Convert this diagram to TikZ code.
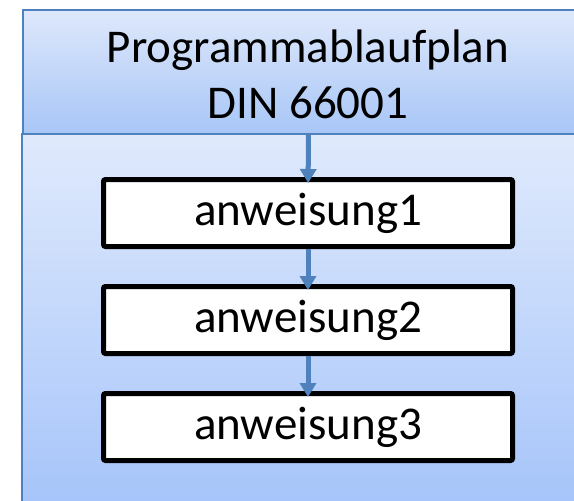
\documentclass[tikz,border=0pt]{standalone}
\usepackage{fontspec}
\setmainfont{Carlito}
\usetikzlibrary{positioning, arrows.meta}

\definecolor{frameblue}{RGB}{79,129,189}
\definecolor{headtop}{RGB}{222,232,251}
\definecolor{headbottom}{RGB}{168,198,247}
\definecolor{bodytop}{RGB}{224,234,252}
\definecolor{bodybottom}{RGB}{164,195,250}

\begin{document}
\begin{tikzpicture}[
        x=0.5pt, y=-0.5pt,
        node distance=17.5pt,
        header/.style={rectangle, draw=frameblue, line width=0.75pt, top color=headtop, bottom color=headbottom, minimum width=286pt, minimum height=62pt, inner sep=0pt},
        stepbox/.style={rectangle, draw=black, line width=2.5pt, fill=white, rounded corners=1pt, minimum width=204.5pt, minimum height=33.5pt, inner sep=0pt, font=\fontsize{23.5}{28}\selectfont},
        titletext/.style={align=center, font=\fontsize{23.5}{28}\selectfont},
        flow/.style={draw=frameblue, line width=2.5pt, -{Triangle[width=8pt, length=7pt]}, shorten >=-3pt}
    ]
    \useasboundingbox (0,0) rectangle (574,500);
    \clip (0,0) rectangle (574,500);

    % Rumpf und Kopf
    \shade[top color=bodytop, bottom color=bodybottom] (22,133) rectangle (594,520);
    \draw[frameblue, line width=0.75pt] (22,133) -- (22,520);
    \node[header, anchor=north west] (head) at (22,9) {};
    \node[titletext, anchor=base] (title) at (308,118) {Programmablaufplan\\DIN 66001};

    % Anweisungen
    \node[stepbox] (anw1) at (308,213) {anweisung1};
    \node[stepbox, below=of anw1] (anw2) {anweisung2};
    \node[stepbox, below=of anw2] (anw3) {anweisung3};

    \draw[flow] (head) -- (anw1);
    \draw[flow] (anw1) -- (anw2);
    \draw[flow] (anw2) -- (anw3);
\end{tikzpicture}
\end{document}
